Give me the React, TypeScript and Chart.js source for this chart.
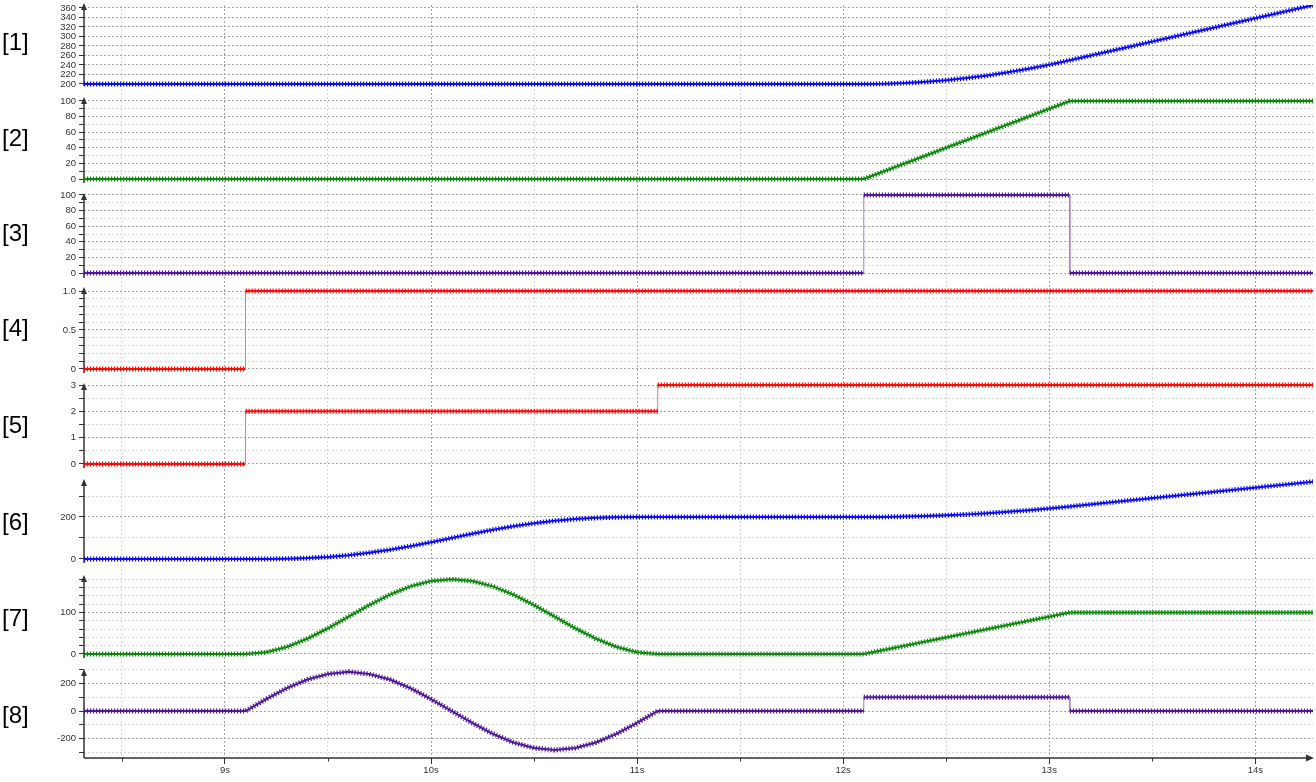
import React, { useEffect, useRef } from 'react';
import { Chart, registerables } from 'chart.js';

Chart.register(...registerables);

// ---------- shared time axis ----------
const timeMin = 8.316;
const timeMax = 14.28;
const timeTicks = [8.5, 9, 9.5, 10, 10.5, 11, 11.5, 12, 12.5, 13, 13.5, 14];
const timeTickLabels = ['', '9s', '', '10s', '', '11s', '', '12s', '', '13s', '', '14s'];

const panelNames = ['[1]', '[2]', '[3]', '[4]', '[5]', '[6]', '[7]', '[8]'];

// ---------- series data (time in s, value) ----------
const s1Time = [8.316, 12.1, 12.2, 12.3, 12.4, 12.5, 12.6, 12.7, 12.8, 12.9, 13.0, 13.1, 14.28];
const s1Value = [200, 200, 200.5, 202, 204.5, 208, 212.5, 218, 224.5, 232, 240.5, 250, 366];

const s2Time = [8.316, 12.1, 13.1, 14.28];
const s2Value = [0, 0, 100, 100];

const s3Time = [8.316, 12.1, 12.1, 13.1, 13.1, 14.28];
const s3Value = [0, 0, 100, 100, 0, 0];

const s4Time = [8.316, 9.1, 9.1, 14.28];
const s4Value = [0, 0, 1, 1];

const s5Time = [8.316, 9.1, 9.1, 11.1, 11.1, 14.28];
const s5Value = [0, 0, 2, 2, 3, 3];

const s6Time = [8.316, 9.1, 9.2, 9.3, 9.4, 9.5, 9.6, 9.7, 9.8, 9.9, 10.0, 10.1, 10.2, 10.3, 10.4, 10.5, 10.6, 10.7, 10.8, 10.9, 11.0, 11.1,
  12.1, 12.2, 12.3, 12.4, 12.5, 12.6, 12.7, 12.8, 12.9, 13.0, 13.1, 14.28];
const s6Value = [0, 0, 0.2, 1.3, 4.2, 9.7, 18, 30, 44, 61, 80, 100, 120, 139, 156, 170, 182, 190, 196, 199, 200, 200,
  200, 200.5, 202, 204.5, 208, 212.5, 218, 224.5, 232, 240.5, 250, 368];

const s7Time = [8.316, 9.1, 9.2, 9.3, 9.4, 9.5, 9.6, 9.7, 9.8, 9.9, 10.0, 10.1, 10.2, 10.3, 10.4, 10.5, 10.6, 10.7, 10.8, 10.9, 11.0, 11.1,
  12.1, 13.1, 14.28];
const s7Value = [0, 0, 4, 17, 37, 62, 90, 118, 143, 163, 176, 180, 176, 163, 143, 118, 90, 62, 37, 17, 4, 0,
  0, 100, 100];

const s8Time = [8.316, 9.1, 9.2, 9.3, 9.4, 9.5, 9.6, 9.7, 9.8, 9.9, 10.0, 10.1, 10.2, 10.3, 10.4, 10.5, 10.6, 10.7, 10.8, 10.9, 11.0, 11.1,
  12.1, 12.1, 13.1, 13.1, 14.28];
const s8Value = [0, 0, 87, 166, 229, 269, 285, 269, 229, 166, 87, 0, -87, -166, -229, -269, -283, -269, -229, -166, -87, 0,
  0, 100, 100, 0, 0];

// ---------- per-panel tick values and labels ----------
const p1Ticks = [200, 220, 240, 260, 280, 300, 320, 340, 360];
const p1Labels = ['200', '220', '240', '260', '280', '300', '320', '340', '360'];
const p2Ticks = [0, 10, 20, 30, 40, 50, 60, 70, 80, 90, 100];
const p2Labels = ['0', '', '20', '', '40', '', '60', '', '80', '', '100'];
const p3Ticks = [0, 10, 20, 30, 40, 50, 60, 70, 80, 90, 100];
const p3Labels = ['0', '', '20', '', '40', '', '60', '', '80', '', '100'];
const p4Ticks = [0, 0.1, 0.2, 0.3, 0.4, 0.5, 0.6, 0.7, 0.8, 0.9, 1.0];
const p4Labels = ['0', '', '', '', '', '0.5', '', '', '', '', '1.0'];
const p5Ticks = [0, 0.5, 1, 1.5, 2, 2.5, 3];
const p5Labels = ['0', '', '1', '', '2', '', '3'];
const p6Ticks = [0, 100, 200, 300];
const p6Labels = ['0', '', '200', ''];
const p7Ticks = [0, 20, 40, 60, 80, 100, 120, 140, 160, 180];
const p7Labels = ['0', '', '', '', '', '100', '', '', '', ''];
const p8Ticks = [-300, -200, -100, 0, 100, 200, 300];
const p8Labels = ['', '-200', '', '0', '', '200', ''];

// ---------- layout / style (not data) ----------
const BLUE = '#0a0aff';
const GREEN = '#0a880a';
const PURPLE = '#50189a';
const RED = '#ff0a0a';

const panels = [
  { time: s1Time, value: s1Value, ticks: p1Ticks, labels: p1Labels, color: BLUE, light: '#7070ff', band: 86, min: 185.26, max: 366.3, insetTop: -2, insetBottom: 5, labelY: 44 },
  { time: s2Time, value: s2Value, ticks: p2Ticks, labels: p2Labels, color: GREEN, light: '#60b060', band: 95, min: -8.97, max: 112.8, insetTop: 6, insetBottom: 3, labelY: 140 },
  { time: s3Time, value: s3Value, ticks: p3Ticks, labels: p3Labels, color: PURPLE, light: '#a080d8', band: 96, min: -11.5, max: 111.5, insetTop: 7, insetBottom: 4, labelY: 235 },
  { time: s4Time, value: s4Value, ticks: p4Ticks, labels: p4Labels, color: RED, light: '#ff7070', band: 95, min: -0.1026, max: 1.1154, insetTop: 5, insetBottom: 4, labelY: 330 },
  { time: s5Time, value: s5Value, ticks: p5Ticks, labels: p5Labels, color: RED, light: '#ff7070', band: 95, min: -0.3038, max: 3.3038, insetTop: 6, insetBottom: 4, labelY: 427 },
  { time: s6Time, value: s6Value, ticks: p6Ticks, labels: p6Labels, color: BLUE, light: '#7070ff', band: 98, min: -52.4, max: 414.3, insetTop: 7, insetBottom: 7, labelY: 524 },
  { time: s7Time, value: s7Value, ticks: p7Ticks, labels: p7Labels, color: GREEN, light: '#60b060', band: 93, min: -21.7, max: 202.4, insetTop: 5, insetBottom: 5, labelY: 620 },
  { time: s8Time, value: s8Value, ticks: p8Ticks, labels: p8Labels, color: PURPLE, light: '#a080d8', band: 95, min: -341.8, max: 349.1, insetTop: 6, insetBottom: 0, labelY: 717 },
];

const AXIS = '#333333';
const GRID_MAJOR = '#a4a4a4';
const GRID_MINOR = '#d8d8d8';
const FONT = { family: "'Liberation Sans', Arial, sans-serif", size: 9.5 };

const isVertical = (c: any) => Math.abs(c.p1.x - c.p0.x) < 0.5;

const axesPlugin = {
  id: 'panelAxes',
  beforeDatasetsDraw(chart: any) {
    const { ctx, chartArea } = chart;
    ctx.save();
    ctx.strokeStyle = AXIS;
    ctx.fillStyle = AXIS;
    const x = chartArea.left;
    panels.forEach((p, i) => {
      const s = chart.scales['y' + (i + 1)];
      const top = s.top + p.insetTop;
      const bottom = s.bottom - p.insetBottom;
      ctx.lineWidth = 1.5;
      ctx.beginPath();
      ctx.moveTo(x, top + 3);
      ctx.lineTo(x, bottom);
      ctx.stroke();
      ctx.beginPath();
      ctx.moveTo(x, top);
      ctx.lineTo(x - 3, top + 7);
      ctx.lineTo(x + 3, top + 7);
      ctx.closePath();
      ctx.fill();
    });
    const y = chartArea.bottom;
    ctx.lineWidth = 1.5;
    ctx.beginPath();
    ctx.moveTo(chartArea.left, y);
    ctx.lineTo(chartArea.right - 3, y);
    ctx.stroke();
    ctx.beginPath();
    ctx.moveTo(chartArea.right + 1, y);
    ctx.lineTo(chartArea.right - 7, y - 3.5);
    ctx.lineTo(chartArea.right - 7, y + 3.5);
    ctx.closePath();
    ctx.fill();
    ctx.lineWidth = 1;
    const xs = chart.scales.x;
    timeTicks.forEach((t, i) => {
      if (!timeTickLabels[i]) {
        const px = Math.round(xs.getPixelForValue(t)) + 0.5;
        ctx.beginPath();
        ctx.moveTo(px, y);
        ctx.lineTo(px, y + 3.5);
        ctx.stroke();
      }
    });
    ctx.restore();
  },
};

export default function App() {
  const canvasRef = useRef<HTMLCanvasElement | null>(null);

  useEffect(() => {
    document.body.style.margin = '0';
    const canvas = canvasRef.current;
    if (!canvas) return;

    const datasets: any[] = [];
    panels.forEach((p, i) => {
      const data = p.time.map((t, k) => ({ x: t, y: p.value[k] }));
      datasets.push({
        data,
        yAxisID: 'y' + (i + 1),
        borderColor: p.color,
        borderWidth: 2,
        pointRadius: 0,
        tension: 0,
        fill: false,
        order: 2,
        segment: {
          borderWidth: (c: any) => (isVertical(c) ? 1 : undefined),
          borderColor: (c: any) => (isVertical(c) ? p.light : undefined),
        },
      });
      datasets.push({
        data,
        yAxisID: 'y' + (i + 1),
        borderColor: p.color,
        borderWidth: 5,
        borderDash: [1.2, 1.8],
        borderCapStyle: 'butt',
        pointRadius: 0,
        tension: 0,
        fill: false,
        order: 1,
        segment: {
          borderColor: (c: any) => (isVertical(c) ? 'rgba(0,0,0,0)' : undefined),
        },
      });
    });

    const scales: any = {
      x: {
        type: 'linear',
        min: timeMin,
        max: timeMax,
        bounds: 'data',
        afterBuildTicks: (s: any) => {
          s.ticks = timeTicks.map((v) => ({ value: v }));
        },
        afterFit: (s: any) => {
          s.height = 24;
          s.paddingLeft = 0;
          s.paddingRight = 0;
        },
        grid: {
          color: (c: any) => (timeTickLabels[c.index] ? GRID_MAJOR : GRID_MINOR),
          lineWidth: 1,
          tickLength: 6,
          tickColor: (c: any) => (timeTickLabels[c.index] ? AXIS : 'rgba(0,0,0,0)'),
        },
        border: { display: false, dash: [2, 2] },
        ticks: {
          autoSkip: false,
          maxRotation: 0,
          padding: 1,
          color: '#333',
          font: FONT,
          callback: (_v: any, i: number) => timeTickLabels[i],
        },
      },
    };

    panels.forEach((p, i) => {
      scales['y' + (i + 1)] = {
        type: 'linear',
        position: 'left',
        stack: 'panels',
        stackWeight: p.band,
        weight: panels.length - i,
        min: p.min,
        max: p.max,
        bounds: 'data',
        afterBuildTicks: (s: any) => {
          s.ticks = p.ticks.map((v) => ({ value: v }));
        },
        afterFit: (s: any) => {
          s.width = 84;
          s.paddingTop = 0;
          s.paddingBottom = 0;
        },
        grid: {
          color: (c: any) => (p.labels[c.index] ? GRID_MAJOR : GRID_MINOR),
          lineWidth: 1,
          tickLength: 5,
          tickColor: AXIS,
        },
        border: { display: false, dash: [2, 2] },
        ticks: {
          autoSkip: false,
          padding: 3,
          color: '#333',
          font: FONT,
          callback: (_v: any, k: number) => p.labels[k],
        },
      };
    });

    const chart = new Chart(canvas, {
      type: 'line',
      data: { datasets },
      options: {
        animation: false,
        responsive: true,
        maintainAspectRatio: false,
        events: [],
        layout: { padding: { top: 5, right: 3, left: 0, bottom: 0 } },
        plugins: { legend: { display: false }, tooltip: { enabled: false } },
        scales,
      } as any,
      plugins: [axesPlugin],
    } as any);

    return () => chart.destroy();
  }, []);

  return (
    <div style={{ position: 'relative', width: 1316, height: 782, background: '#fff', overflow: 'hidden' }}>
      <canvas ref={canvasRef} style={{ position: 'absolute', left: 0, top: 0 }} />
      {panelNames.map((name, i) => (
        <div
          key={name}
          style={{
            position: 'absolute',
            left: 2,
            top: panels[i].labelY - 14,
            fontFamily: "'Liberation Sans', Arial, sans-serif",
            fontSize: 24,
            lineHeight: '24px',
            color: '#000',
            whiteSpace: 'nowrap',
          }}
        >
          {name}
        </div>
      ))}
    </div>
  );
}
